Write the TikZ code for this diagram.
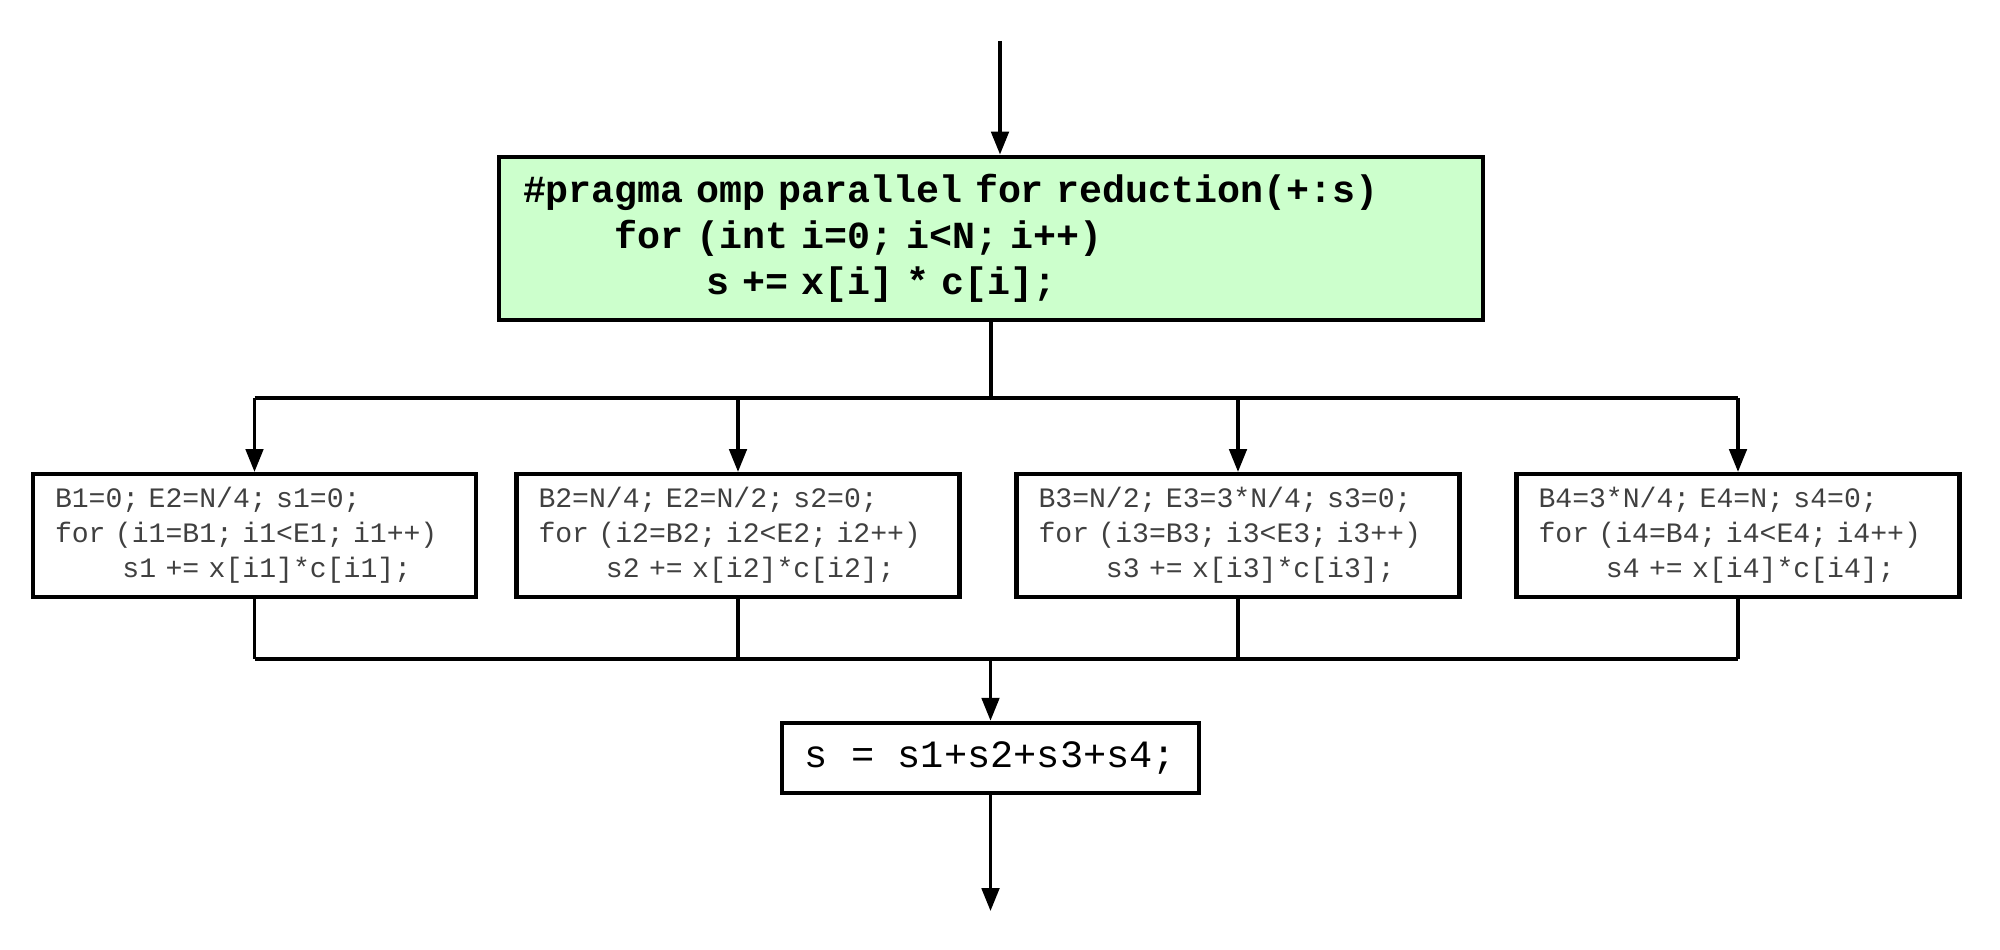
\documentclass[tikz,border=0pt]{standalone}
\usepackage{fontspec}
\newfontfamily\codefont{Liberation Mono}
\definecolor{pragmagreen}{HTML}{CCFFCC}
\usetikzlibrary{arrows.meta}

\begin{document}
\begin{tikzpicture}[>={Triangle[length=6.5pt,width=5pt]},line width=0.9pt,
  pragmabox/.style={draw,line width=1.4pt,fill=pragmagreen,align=left,
    inner xsep=0.24cm,text width=9.36cm,minimum height=1.63cm,
    font=\codefont\bfseries\fontsize{10.9}{13.1}\selectfont},
  chunkbox/.style={draw,line width=1.2pt,align=left,text=black!75,
    inner xsep=0.22cm,text width=3.99cm,minimum height=1.23cm,
    font=\codefont\fontsize{8}{10}\selectfont},
  sumbox/.style={draw,line width=1.3pt,minimum width=4.17cm,minimum height=0.70cm,
    font=\codefont\fontsize{11}{13}\selectfont}]
  \useasboundingbox (0,0) rectangle (20,9.5);

  % parallel region
  \node[pragmabox] (pragma) at (9.91,7.115)
    {\#pragma omp parallel for reduction(+:s)\\
     \hspace*{2.4em}for (int i=0; i<N; i++)\\
     \hspace*{4.8em}s += x[i] * c[i];};

  % the four threads
  \node[chunkbox] (t1) at (2.545,4.145)
    {B1=0; E2=N/4; s1=0;\\
     for (i1=B1; i1<E1; i1++)\\
     \hspace*{2.4em}s1 += x[i1]*c[i1];};
  \node[chunkbox] (t2) at (7.38,4.145)
    {B2=N/4; E2=N/2; s2=0;\\
     for (i2=B2; i2<E2; i2++)\\
     \hspace*{2.4em}s2 += x[i2]*c[i2];};
  \node[chunkbox] (t3) at (12.38,4.145)
    {B3=N/2; E3=3*N/4; s3=0;\\
     for (i3=B3; i3<E3; i3++)\\
     \hspace*{2.4em}s3 += x[i3]*c[i3];};
  \node[chunkbox] (t4) at (17.38,4.145)
    {B4=3*N/4; E4=N; s4=0;\\
     for (i4=B4; i4<E4; i4++)\\
     \hspace*{2.4em}s4 += x[i4]*c[i4];};

  % reduction
  \node[sumbox] (sum) at (9.905,1.92) {s = s1+s2+s3+s4;};

  \coordinate (in) at (10.0,9.09);
  \coordinate (fork) at (9.91,5.52);
  \coordinate (join) at (9.905,2.91);
  \coordinate (out) at (9.905,0.39);

  \draw[->] (in) -- (in |- pragma.north);
  \draw (pragma) -- (fork);
  \draw (t1.north |- fork) -- (t4.north |- fork);
  \foreach \t in {t1,t2,t3,t4}
    \draw[->] (\t.north |- fork) -- (\t.north);
  \foreach \t in {t1,t2,t3,t4}
    \draw (\t) -- (\t.south |- join);
  \draw (t1.south |- join) -- (t4.south |- join);
  \draw[->] (join) -- (sum);
  \draw[->] (sum) -- (out);
\end{tikzpicture}
\end{document}
